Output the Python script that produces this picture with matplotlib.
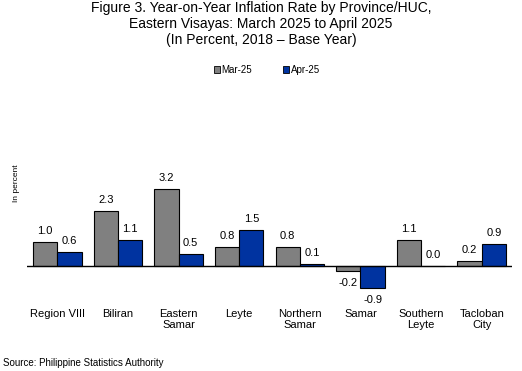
import numpy as np
import matplotlib
matplotlib.use("Agg")
import matplotlib.pyplot as plt
from matplotlib.patches import Patch

plt.rcParams['font.family'] = ['Liberation Sans', 'DejaVu Sans']

categories = ["Region VIII", "Biliran", "Eastern\nSamar", "Leyte", "Northern\nSamar",
              "Samar", "Southern\nLeyte", "Tacloban\nCity"]
mar25 = [1.0, 2.3, 3.2, 0.8, 0.8, -0.2, 1.1, 0.2]
apr25 = [0.6, 1.1, 0.5, 1.5, 0.1, -0.9, 0.0, 0.9]
series_names = ["Mar-25", "Apr-25"]

gray = "#808080"
blue = "#0033A0"

W, H = 522, 371
fig = plt.figure(figsize=(W / 100, H / 100), dpi=100)

# axes placed in pixels: zero line at y=266, 24 px per unit
ymin, ymax = -2.0, 3.5
top_px, bot_px = 266 - ymax * 24, 266 - ymin * 24
ax = fig.add_axes([27 / W, (H - bot_px) / H, 485 / W, (bot_px - top_px) / H])

x = np.arange(len(categories))
bw = 0.4
b1 = ax.bar(x - bw / 2, mar25, bw, color=gray, edgecolor="black", linewidth=0.8)
b2 = ax.bar(x + bw / 2, apr25, bw, color=blue, edgecolor="black", linewidth=0.8)

for xs, vals in [(x - bw / 2, mar25), (x + bw / 2, apr25)]:
    for xi, v in zip(xs, vals):
        if v >= 0:
            ax.text(xi, v + 0.46, f"{v:.1f}", ha="center", va="center", fontsize=8)
        else:
            ax.text(xi, v - 0.52, f"{v:.1f}", ha="center", va="center", fontsize=8)

for xi, lab in zip(x, categories):
    ax.text(xi, -1.79, lab, ha="center", va="top", fontsize=8, linespacing=1.15)

ax.axhline(0, color="black", linewidth=1.0)
ax.set_xlim(-0.5, len(categories) - 0.5)
ax.set_ylim(ymin, ymax)
for s in ax.spines.values():
    s.set_visible(False)
ax.set_xticks([])
ax.set_yticks([])

fig.text(17 / W, 1 - 183 / H, "In percent", rotation=90, ha="center", va="center", fontsize=6)

title = ("Figure 3. Year-on-Year Inflation Rate by Province/HUC,\n"
         "Eastern Visayas: March 2025 to April 2025\n"
         "(In Percent, 2018 \u2013 Base Year)")
fig.text(0.5, 1 - 1 / H, title, ha="center", va="top", fontsize=10, linespacing=1.2)

handles = [Patch(facecolor=gray, edgecolor="black", linewidth=0.6),
           Patch(facecolor=blue, edgecolor="black", linewidth=0.6)]
fig.legend(handles, series_names, loc="center", bbox_to_anchor=(267 / W, 1 - 70 / H),
           ncol=2, frameon=False, fontsize=7, handlelength=0.6, handleheight=0.6,
           handletextpad=0.2, columnspacing=3.2)

fig.text(3 / W, 1 - 363 / H, "Source: Philippine Statistics Authority", ha="left",
         va="center", fontsize=7)

fig.savefig("out.png", dpi=100)
